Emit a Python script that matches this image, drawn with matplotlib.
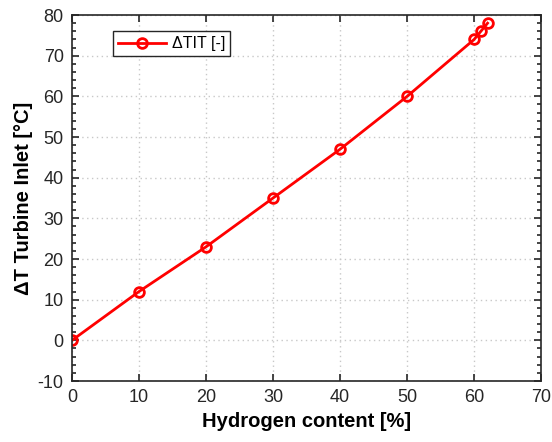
import numpy as np
import matplotlib
matplotlib.use('Agg')
import matplotlib.pyplot as plt
from matplotlib.ticker import MultipleLocator, NullLocator

h2_content = [0, 10, 20, 30, 40, 50, 60, 61, 62]
delta_tit = [0, 12, 23, 35, 47, 60, 74, 76, 78]

plt.rcParams['font.family'] = ['Liberation Sans', 'DejaVu Sans']
plt.rcParams['font.size'] = 13
plt.rcParams['axes.unicode_minus'] = False

fig = plt.figure(figsize=(5.52, 4.42), dpi=100)
ax = fig.add_axes([0.1304, 0.138, 0.850, 0.828])

ax.plot(h2_content, delta_tit, color='red', lw=2, marker='o', ms=7,
        mfc='none', mec='red', mew=2, label='\u0394TIT [-]')

ax.set_xlim(0, 70)
ax.set_ylim(-10, 80)
ax.xaxis.set_major_locator(MultipleLocator(10))
ax.xaxis.set_minor_locator(NullLocator())
ax.yaxis.set_major_locator(MultipleLocator(10))
ax.yaxis.set_minor_locator(MultipleLocator(2))
ax.grid(True, which='major', color='#c8c8c8', linestyle=(0, (1, 2.5)), linewidth=1)
ax.tick_params(which='both', direction='in', top=True, right=True, colors='#262626')
ax.tick_params(which='major', length=5, width=1.2, pad=6)
ax.tick_params(which='minor', length=3, width=1.2)
for sp in ax.spines.values():
    sp.set_color('#262626')
    sp.set_linewidth(1.2)

ax.set_xlabel('Hydrogen content [%]', fontweight='bold', fontsize=14.5, labelpad=4)
ax.set_ylabel('\u0394T Turbine Inlet [\u00b0C]', fontweight='bold', fontsize=14.5, labelpad=3)

ax.legend(loc='upper left', bbox_to_anchor=(0.07, 0.977), frameon=True, fancybox=False,
          edgecolor='#262626', framealpha=1, handlelength=3.0, borderpad=0.3,
          handletextpad=0.4, fontsize=11.5)

fig.savefig('out.png', dpi=100)
